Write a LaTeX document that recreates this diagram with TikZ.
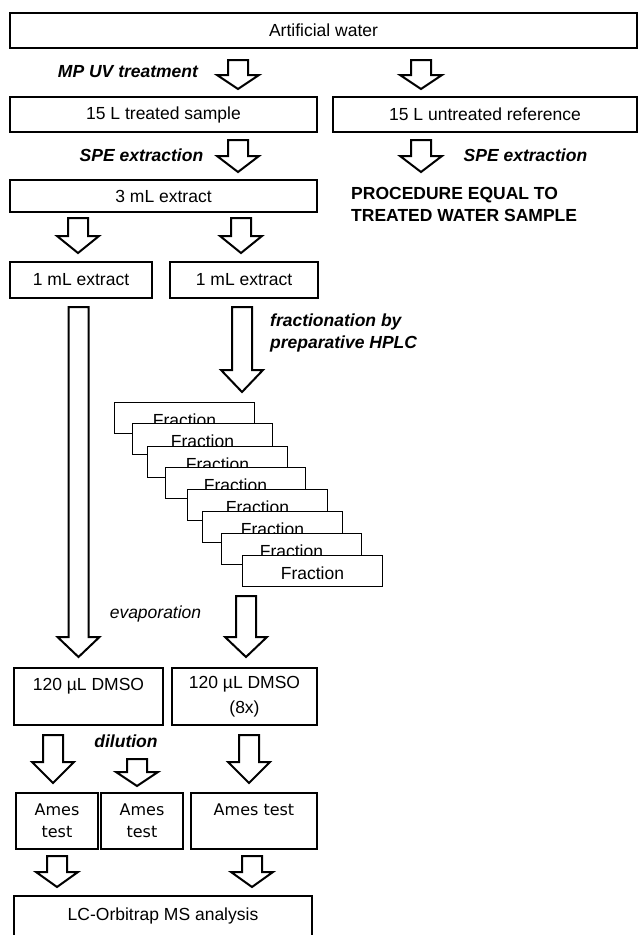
\documentclass[tikz,border=0pt]{standalone}
\usepackage{fontspec}
\setmainfont{Liberation Sans}
\newfontfamily\amesfont{DejaVu Sans}
\newcommand\blockarrow[4]{%
  \draw[barrow] (#1-10,#2) -- (#1+10,#2) -- (#1+10,#3) -- (#1+21,#3) -- (#1,#4) -- (#1-21,#3) -- (#1-10,#3) -- cycle;}
\begin{document}
\begin{tikzpicture}[x=1pt,y=-1pt,
  box/.style={draw, line width=1.1pt, fill=white, inner sep=0pt, align=center,
    font=\fontsize{17.5}{22}\selectfont},
  fracbox/.style={box, line width=0.9pt, minimum width=140, minimum height=31, anchor=north west,
    text height=17pt, text depth=0pt},
  amesbox/.style={box, font=\amesfont\fontsize{16}{22}\selectfont, minimum height=56},
  lbl/.style={inner sep=0pt, font=\fontsize{17.5}{22}\selectfont\bfseries\itshape},
  barrow/.style={draw, line width=2pt, fill=white, line join=miter}
]
\useasboundingbox (0,0) rectangle (638,935);
\clip (0,0) rectangle (638,935);
\fill[white] (0,0) rectangle (638,935);

% boxes
\node[box, minimum width=627, minimum height=35] (water) at (323.5,30.5) {Artificial water};
\node[box, minimum width=307, minimum height=35] (treated) at (163.5,114.5) {15 L treated sample};
\node[box, minimum width=304, minimum height=35] (untreated) at (485,114.5) {15 L untreated reference};
\node[box, minimum width=307, minimum height=32] (ext3) at (163.5,196) {3 mL extract};
\node[box, minimum width=142, minimum height=36] (ext1a) at (81,280) {1 mL extract};
\node[box, minimum width=148, minimum height=36] (ext1b) at (244,280) {1 mL extract};

\foreach \x/\y [count=\i] in {114/402,132/423,147/446,165/467,187/489,202/511,221/533,242/555}
  \node[fracbox] (frac\i) at (\x,\y) {Fraction};

\node[box, font=\fontsize{17.5}{25}\selectfont, minimum width=149, minimum height=57] (dmsoa) at (88.5,696.5) {120 µL DMSO\\~};
\node[box, font=\fontsize{17.5}{25}\selectfont, minimum width=145, minimum height=57] (dmsob) at (244.5,696.5) {120 µL DMSO\\(8x)};

\node[amesbox, minimum width=82] (amesa) at (57,821) {Ames\\test};
\node[amesbox, minimum width=82] (amesb) at (142,821) {Ames\\test};
\node[amesbox, minimum width=126] (amesc) at (254,821) {Ames test\\~};

\node[box, minimum width=298, minimum height=50, text height=12pt, text depth=14pt] (lc) at (163,921) {LC-Orbitrap MS analysis};

% labels
\node[lbl] (mpuv) at (128,72) {MP UV treatment};
\node[lbl] (spe1) at (141.5,155) {SPE extraction};
\node[lbl] (spe2) at (525.5,155) {SPE extraction};
\node[inner sep=0pt, anchor=west, align=left, font=\fontsize{17.5}{22}\selectfont\bfseries] (proc) at (351,204) {PROCEDURE EQUAL TO\\TREATED WATER SAMPLE};
\node[lbl, anchor=west, align=left] (fractxt) at (270,333) {fractionation by\\preparative HPLC};
\node[inner sep=0pt, font=\fontsize{17.5}{22}\selectfont\itshape] (evap) at (155.5,614) {evaporation};
\node[lbl] (dil) at (126,741) {dilution};

% block arrows
\blockarrow{238}{60}{75}{89}
\blockarrow{421}{60}{75}{89}
\blockarrow{238}{140}{156}{172}
\blockarrow{421}{140}{156}{172}
\blockarrow{78}{218}{236}{253}
\blockarrow{241}{218}{236}{253}
\blockarrow{78.5}{307}{637}{657}
\blockarrow{242}{307}{370}{392}
\blockarrow{246}{596}{637}{657}
\blockarrow{53}{735}{762}{783}
\blockarrow{137}{759}{772}{786}
\blockarrow{249}{735}{762}{783}
\blockarrow{57}{856}{872}{887}
\blockarrow{252}{856}{872}{887}
\end{tikzpicture}
\end{document}
